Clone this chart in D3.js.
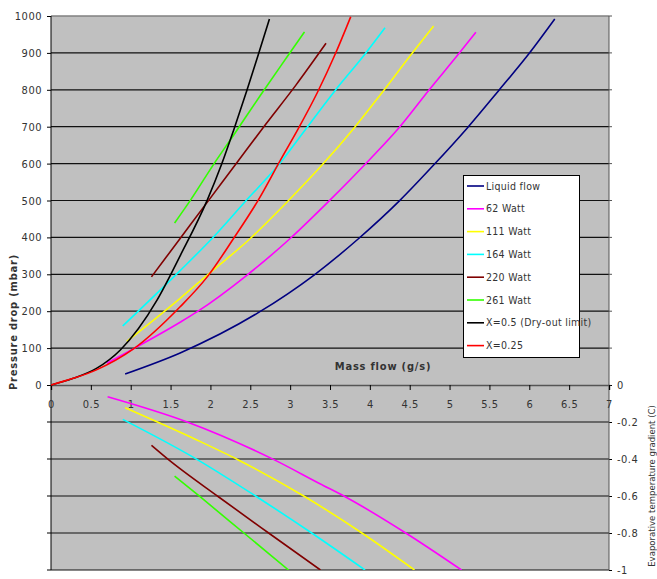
<!DOCTYPE html>
<html>
<head>
<meta charset="utf-8">
<script src="https://cdn.jsdelivr.net/npm/d3@7"></script>
<style>
  body { margin: 0; background: #fff; }
  text { font-family: "Liberation Sans Narrow", "DejaVu Sans Condensed", sans-serif; fill: #333; }
</style>
</head>
<body>
<script>
// pressure drop (mbar) against mass flow (g/s)
var liquidFlow = [[0.93, 30], [1.62, 87], [2.60, 196], [3.30, 298], [3.86, 397], [4.38, 501], [4.80, 596], [5.22, 696], [5.62, 799], [6.0, 899], [6.32, 992]];
var watt62 = [[0.70, 59], [0.99, 93], [1.62, 170], [1.83, 198], [2.46, 298], [3.0, 397], [3.48, 497], [4.01, 614], [4.36, 696], [4.74, 799], [5.12, 899], [5.33, 956]];
var watt111 = [[0.95, 118], [1.62, 235], [1.96, 298], [2.50, 397], [2.98, 500], [3.40, 596], [3.80, 696], [4.13, 786], [4.53, 899], [4.80, 973]];
var watt164 = [[0.90, 160], [1.62, 310], [2.02, 397], [2.44, 498], [2.86, 598], [3.19, 692], [3.56, 797], [3.94, 897], [4.19, 968]];
var watt220 = [[1.26, 293], [1.62, 397], [1.98, 501], [2.31, 596], [2.67, 700], [3.07, 812], [3.45, 926]];
var watt261 = [[1.55, 439], [1.75, 501], [2.04, 598], [2.29, 677], [2.63, 786], [2.98, 895], [3.18, 957]];
var dryOut = [[0, 0], [0.28, 18], [0.57, 45], [0.87, 95], [1.33, 230], [1.62, 350], [1.96, 501], [2.14, 598], [2.29, 690], [2.46, 800], [2.60, 895], [2.74, 992]];
var quality25 = [[0, 0], [0.28, 18], [0.57, 41], [1.03, 97], [1.62, 212], [1.96, 293], [2.29, 397], [2.60, 501], [2.88, 610], [3.09, 690], [3.34, 792], [3.57, 899], [3.76, 998]];

// evaporative temperature gradient (C) against mass flow
var grad62 = [[0.71, -0.063], [1.70, -0.198], [2.79, -0.402], [3.38, -0.535], [3.69, -0.604], [4.45, -0.80], [5.15, -1.0]];
var grad111 = [[0.93, -0.123], [1.83, -0.297], [2.35, -0.405], [3.17, -0.600], [3.90, -0.80], [4.56, -1.0]];
var grad164 = [[0.90, -0.186], [1.83, -0.402], [2.58, -0.604], [3.27, -0.80], [3.94, -1.0]];
var grad220 = [[1.26, -0.326], [1.47, -0.402], [2.10, -0.604], [2.73, -0.80], [3.38, -1.0]];
var grad261 = [[1.55, -0.492], [1.87, -0.604], [2.42, -0.80], [2.98, -1.0]];

var xTicks = [0, 0.5, 1, 1.5, 2, 2.5, 3, 3.5, 4, 4.5, 5, 5.5, 6, 6.5, 7];
var pTicks = [0, 100, 200, 300, 400, 500, 600, 700, 800, 900, 1000];
var gTicks = [0, -0.2, -0.4, -0.6, -0.8, -1];

var legendNames = ["Liquid flow", "62 Watt", "111 Watt", "164 Watt", "220 Watt", "261 Watt", "X=0.5 (Dry-out limit)", "X=0.25"];
var colors = ["#000080", "#ff00ff", "#ffff00", "#00ffff", "#800000", "#33ff00", "#000000", "#ff0000"];
var pressureSeries = [liquidFlow, watt62, watt111, watt164, watt220, watt261, dryOut, quality25];
var gradSeries = [grad62, grad111, grad164, grad220, grad261];
var gradColors = colors.slice(1, 6);

// plot box (window.top is read-only, hence the prefixed names)
var plotL = 51, plotR = 609, plotT = 16, plotZ = 385, plotB = 570;

var x = d3.scaleLinear().domain([0, 7]).range([plotL, plotR]);
var yP = d3.scaleLinear().domain([0, 1000]).range([plotZ, plotT]);
var yG = d3.scaleLinear().domain([0, -1]).range([plotZ, plotB]);

var svg = d3.select("body").append("svg").attr("width", 657).attr("height", 579);

svg.append("defs").append("clipPath").attr("id", "plot")
  .append("rect").attr("x", plotL).attr("y", plotT).attr("width", plotR - plotL).attr("height", plotB - plotT);

svg.append("rect")
  .attr("x", plotL).attr("y", plotT).attr("width", plotR - plotL).attr("height", plotB - plotT)
  .attr("fill", "#c0c0c0");

// gridlines
svg.selectAll("line.gp").data(pTicks.slice(1, -1)).enter().append("line")
  .attr("class", "gp")
  .attr("x1", plotL).attr("x2", plotR)
  .attr("y1", function (d) { return yP(d); }).attr("y2", function (d) { return yP(d); })
  .attr("stroke", "#111").attr("stroke-width", 1.2);
svg.selectAll("line.gg").data(gTicks.slice(1)).enter().append("line")
  .attr("class", "gg")
  .attr("x1", plotL).attr("x2", plotR)
  .attr("y1", function (d) { return yG(d); }).attr("y2", function (d) { return yG(d); })
  .attr("stroke", "#111").attr("stroke-width", 1.2);

svg.append("line").attr("x1", plotL).attr("x2", plotR).attr("y1", plotT).attr("y2", plotT)
  .attr("stroke", "#808080").attr("stroke-width", 1.5);

var plainFmt = function (d) { return String(d); };

// left axis (pressure) and right axis (gradient)
var leftAxis = d3.axisLeft(yP).tickValues(pTicks).tickSize(4).tickPadding(5).tickFormat(plainFmt);
var la = svg.append("g").attr("transform", "translate(" + plotL + ",0)").call(leftAxis);
la.select(".domain").remove();
svg.append("line").attr("x1", plotL).attr("x2", plotL).attr("y1", plotT).attr("y2", plotB).attr("stroke", "#000");
svg.selectAll("line.lt").data(gTicks.slice(1)).enter().append("line")
  .attr("class", "lt")
  .attr("x1", plotL - 4).attr("x2", plotL)
  .attr("y1", function (d) { return yG(d); }).attr("y2", function (d) { return yG(d); })
  .attr("stroke", "#000");

var rightAxis = d3.axisRight(yG).tickValues(gTicks).tickSize(3).tickPadding(5).tickFormat(plainFmt);
var ra = svg.append("g").attr("transform", "translate(" + plotR + ",0)").call(rightAxis);
ra.select(".domain").remove();
svg.append("line").attr("x1", plotR).attr("x2", plotR).attr("y1", plotT).attr("y2", plotB).attr("stroke", "#555");
svg.selectAll("line.rt").data(pTicks.slice(1)).enter().append("line")
  .attr("class", "rt")
  .attr("x1", plotR).attr("x2", plotR + 3)
  .attr("y1", function (d) { return yP(d); }).attr("y2", function (d) { return yP(d); })
  .attr("stroke", "#555");

// x axis in the middle
var xAxis = d3.axisBottom(x).tickValues(xTicks).tickSize(5).tickPadding(10).tickFormat(plainFmt);
var xa = svg.append("g").attr("transform", "translate(0," + plotZ + ")").call(xAxis);
xa.select(".domain").attr("stroke", "#555").attr("stroke-width", 1.5);

svg.selectAll(".tick text").attr("font-size", 11).attr("fill", "#444").attr("letter-spacing", 0.5)
  .style("font-family", "'Liberation Sans Narrow', 'DejaVu Sans Condensed', sans-serif");
svg.selectAll(".tick line").attr("stroke", "#000");

// curves
var line = d3.line()
  .x(function (d) { return x(d[0]); })
  .curve(d3.curveMonotoneX);

var curves = svg.append("g").attr("clip-path", "url(#plot)");
curves.selectAll("path.p").data(pressureSeries).enter().append("path")
  .attr("class", "p")
  .attr("d", function (d) { return line.y(function (p) { return yP(p[1]); })(d); })
  .attr("fill", "none")
  .attr("stroke", function (d, i) { return colors[i]; })
  .attr("stroke-width", 1.6);
curves.selectAll("path.g").data(gradSeries).enter().append("path")
  .attr("class", "g")
  .attr("d", function (d) { return line.y(function (p) { return yG(p[1]); })(d); })
  .attr("fill", "none")
  .attr("stroke", function (d, i) { return gradColors[i]; })
  .attr("stroke-width", 1.6);

// axis titles
svg.append("text")
  .attr("x", 383).attr("y", 370)
  .attr("text-anchor", "middle")
  .attr("font-size", 11).attr("font-weight", "bold").attr("letter-spacing", 0.8)
  .text("Mass flow (g/s)");
svg.append("text")
  .attr("transform", "translate(17,322) rotate(-90)")
  .attr("text-anchor", "middle")
  .attr("font-size", 11).attr("font-weight", "bold").attr("letter-spacing", 0.8)
  .text("Pressure drop (mbar)");
svg.append("text")
  .attr("transform", "translate(655,486) rotate(-90)")
  .attr("text-anchor", "middle")
  .attr("font-size", 9.5).attr("letter-spacing", 0)
  .text("Evaporative temperature gradient (C)");

// legend
var legend = svg.append("g");
legend.append("rect")
  .attr("x", 463.5).attr("y", 175.5).attr("width", 116).attr("height", 182)
  .attr("fill", "#fff").attr("stroke", "#000");
var items = legend.selectAll("g.item").data(legendNames).enter().append("g")
  .attr("class", "item")
  .attr("transform", function (d, i) { return "translate(0," + (186 + i * 22.8) + ")"; });
items.append("line")
  .attr("x1", 467).attr("x2", 484)
  .attr("stroke", function (d, i) { return colors[i]; })
  .attr("stroke-width", 1.6);
items.append("text")
  .attr("x", 486).attr("dy", "0.35em")
  .attr("font-size", 10.5).attr("letter-spacing", 0.3)
  .text(function (d) { return d; });
</script>
</body>
</html>
